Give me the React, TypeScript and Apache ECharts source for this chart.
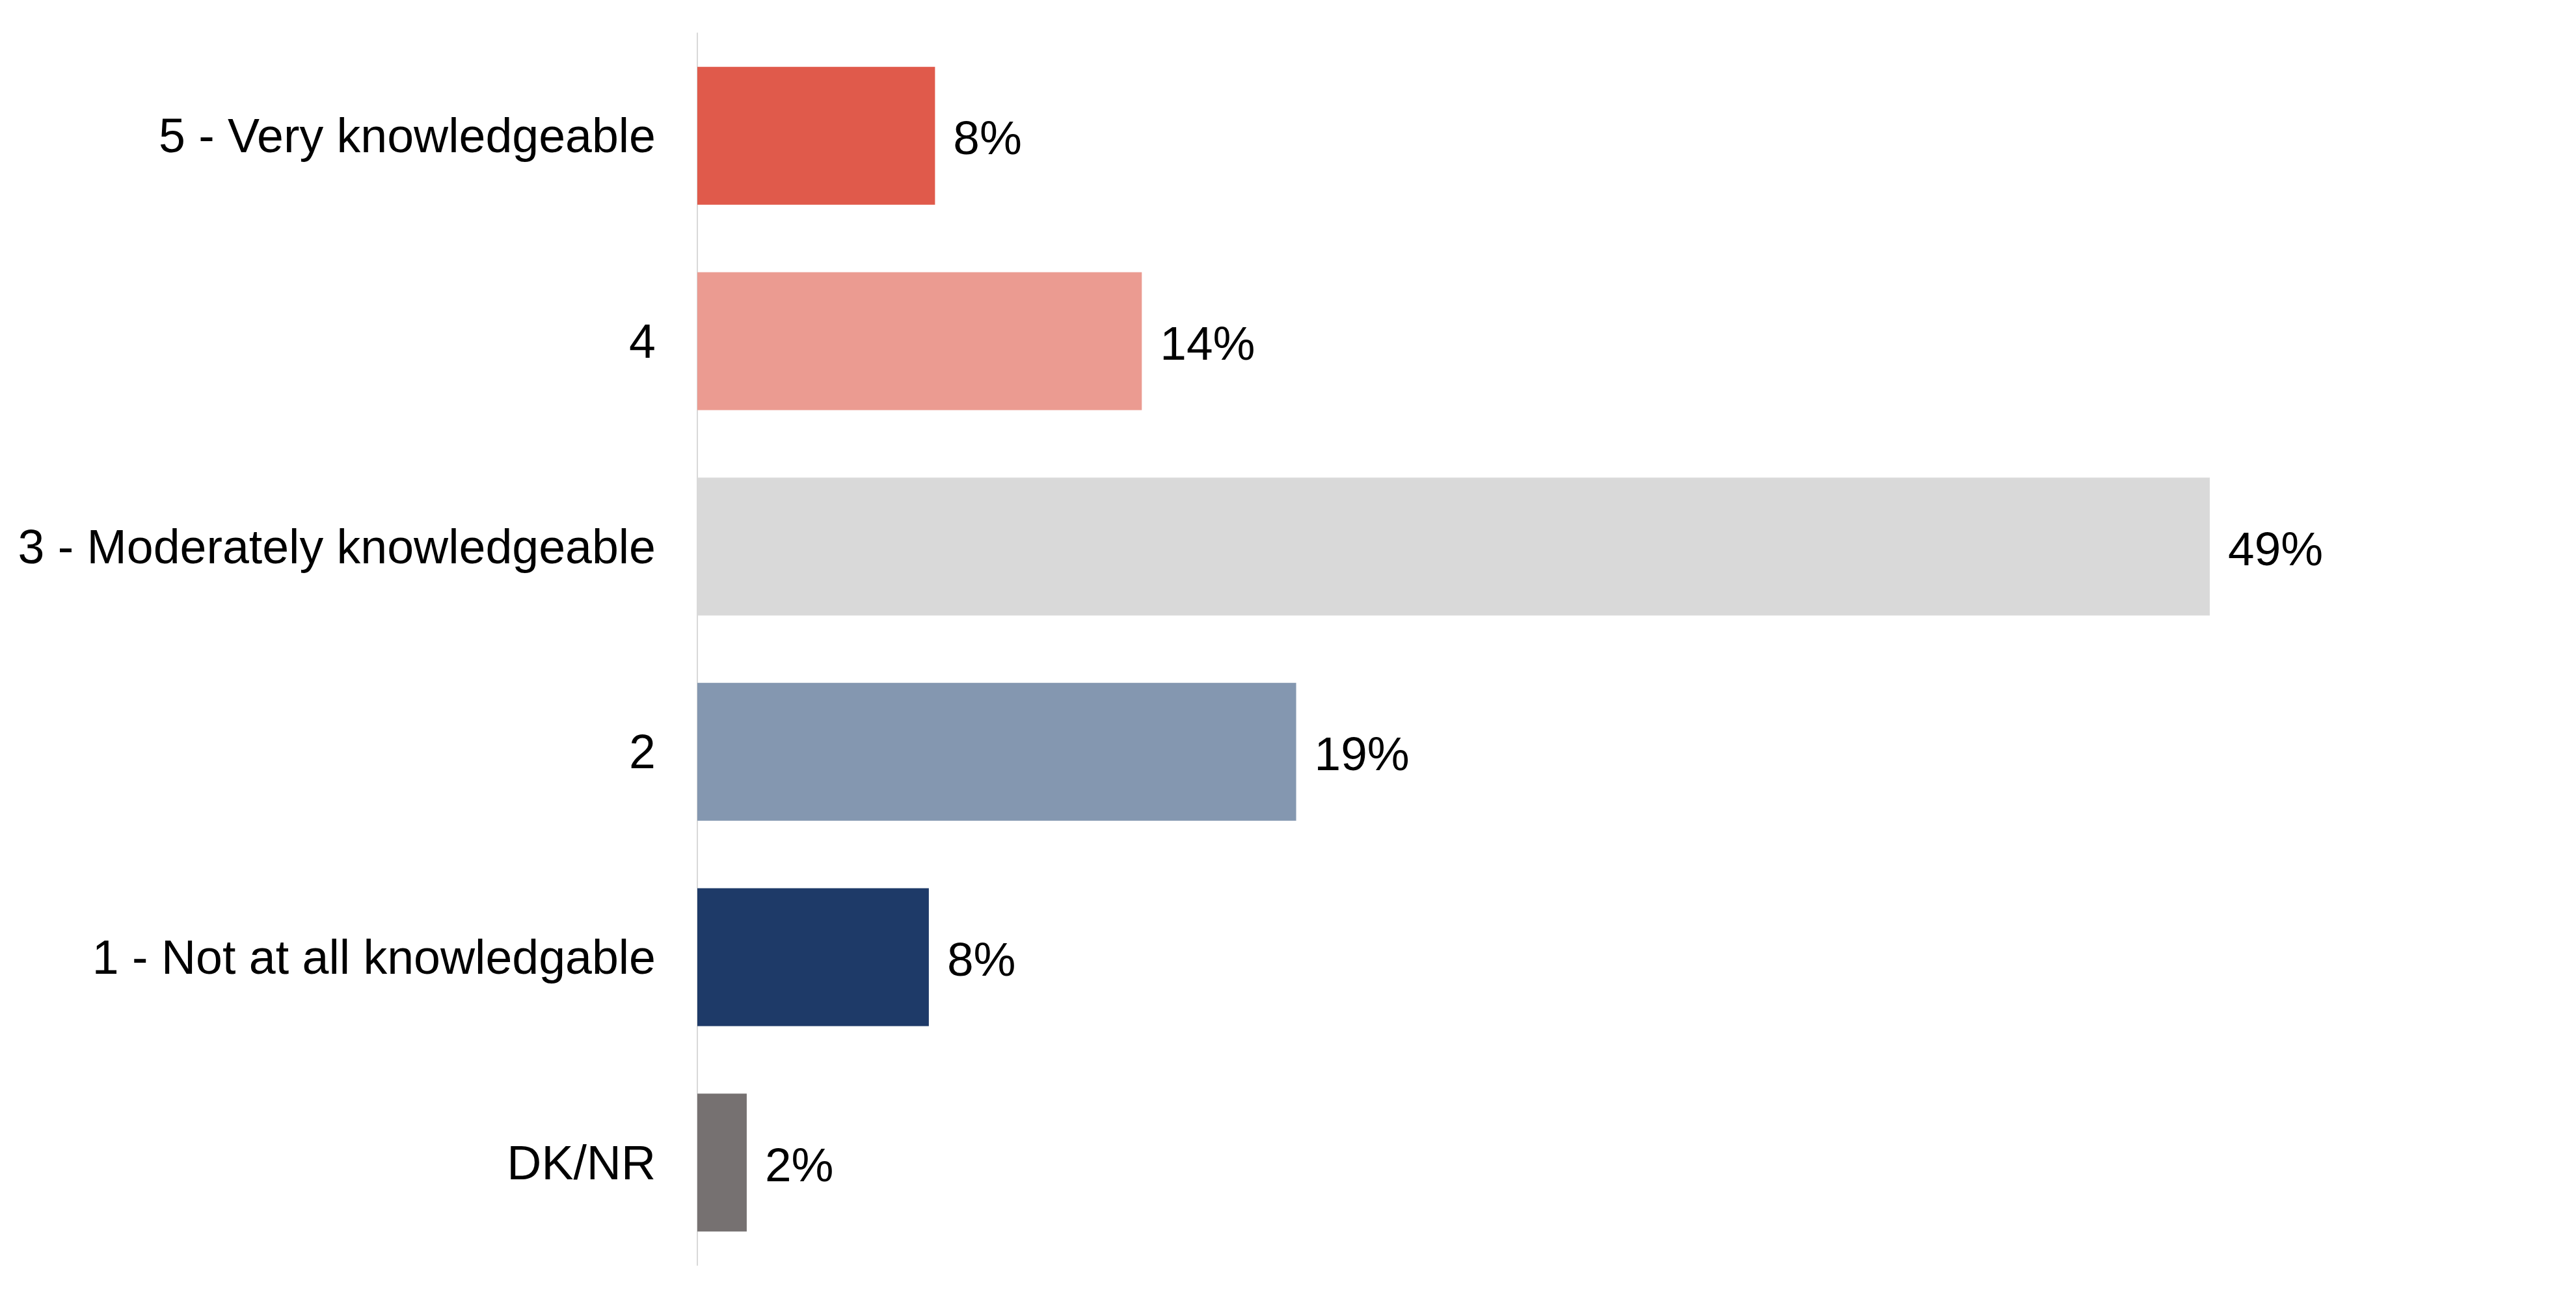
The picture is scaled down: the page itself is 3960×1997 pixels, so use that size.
import React, { useEffect, useRef } from "react";
import * as echarts from "echarts";

const categories = [
  "5 - Very knowledgeable",
  "4",
  "3 - Moderately knowledgeable",
  "2",
  "1 - Not at all knowledgable",
  "DK/NR",
];
const values = [7.7, 14.4, 49.0, 19.4, 7.5, 1.6];
const valueLabels = ["8%", "14%", "49%", "19%", "8%", "2%"];
const colors = ["#E05A4B", "#EB9B91", "#D9D9D9", "#8497B0", "#1E3A68", "#767171"];

export default function App() {
  const ref = useRef<HTMLDivElement>(null);
  useEffect(() => {
    if (!ref.current) return;
    const chart = echarts.init(ref.current, null, { renderer: "svg" });
    chart.setOption({
      animation: false,
      backgroundColor: "#ffffff",
      grid: { left: 1072, top: 51, height: 1894, width: 2847 },
      xAxis: {
        type: "value",
        min: 0,
        max: 60,
        show: false,
      },
      yAxis: {
        type: "category",
        inverse: true,
        data: categories,
        axisLine: { show: true, lineStyle: { color: "#D9D9D9", width: 2 } },
        axisTick: { show: false },
        axisLabel: {
          margin: 64,
          fontFamily: "Liberation Sans, Arial, sans-serif",
          fontSize: 73.5,
          color: "#000000",
        },
      },
      series: [
        {
          type: "bar",
          barWidth: 212,
          data: values.map((v, i) => ({ value: v, itemStyle: { color: colors[i] } })),
          label: {
            show: true,
            position: "right",
            distance: 28,
            offset: [0, 3],
            fontFamily: "Liberation Sans, Arial, sans-serif",
            fontSize: 73,
            color: "#000000",
            formatter: (p: any) => valueLabels[p.dataIndex],
          },
        },
      ],
    });
    return () => chart.dispose();
  }, []);
  return (
    <div
      ref={ref}
      style={{ position: "fixed", left: 0, top: 0, width: 3960, height: 1997 }}
    />
  );
}
